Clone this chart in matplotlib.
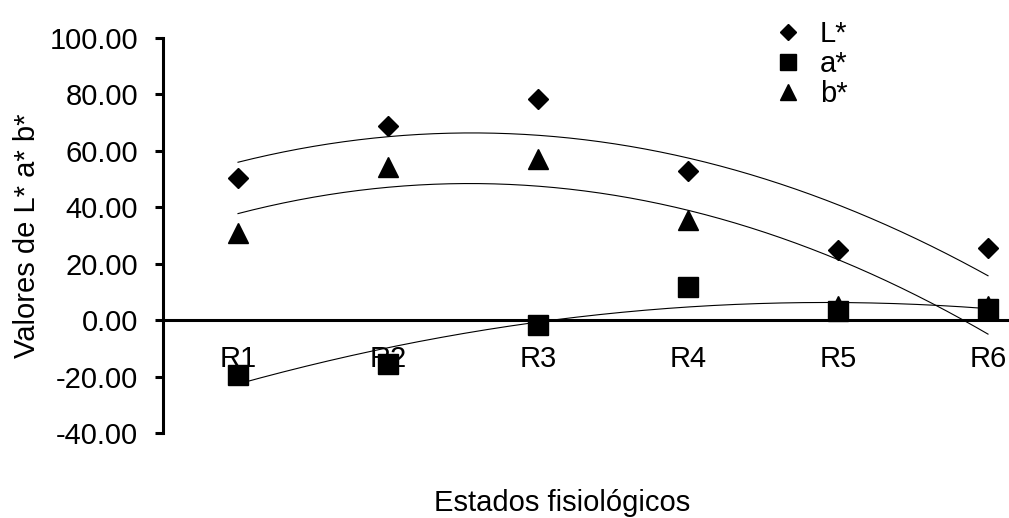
import numpy as np
import matplotlib
matplotlib.use("Agg")
import matplotlib.pyplot as plt

plt.rcParams['font.family'] = ['Liberation Sans', 'DejaVu Sans']

# Colour coordinates per physiological stage
stages = ["R1", "R2", "R3", "R4", "R5", "R6"]
L_star = [50.3, 68.8, 78.4, 52.8, 24.8, 25.5]
a_star = [-19.5, -15.6, -1.8, 11.7, 3.2, 3.9]
b_star = [30.9, 54.3, 57.1, 35.5, 5.0, 5.0]

x = np.arange(1, len(stages) + 1)

fig = plt.figure(figsize=(10.09, 5.18), dpi=100)
ax = fig.add_axes([163 / 1009, 85 / 518, 900 / 1009, 395 / 518])

series = [
    ("L*", L_star, "D", 10),
    ("a*", a_star, "s", 14),
    ("b*", b_star, "^", 14),
]

# second order trend line for each series, drawn under the markers
xs = np.linspace(1, 6, 200)
for label, vals, marker, ms in series:
    coef = np.polyfit(x, vals, 2)
    ax.plot(xs, np.polyval(coef, xs), color="black", lw=0.8, zorder=2)

handles = []
for label, vals, marker, ms in series:
    h, = ax.plot(x, vals, linestyle="none", marker=marker, ms=ms,
                 color="black", mec="black", mew=1, label=label, zorder=3)
    handles.append(h)

ax.set_xlim(0.5, 6.5)
ax.set_ylim(-40, 100)
ax.set_yticks(np.arange(-40, 101, 20))
ax.yaxis.set_major_formatter(matplotlib.ticker.FormatStrFormatter("%.2f"))
ax.set_xticks(x)
ax.set_xticklabels(stages)

for side in ("top", "right"):
    ax.spines[side].set_visible(False)
ax.spines["bottom"].set_position(("data", 0))
ax.spines["bottom"].set_linewidth(2.2)
ax.spines["left"].set_linewidth(2.2)

ax.tick_params(axis="y", direction="out", length=6, width=2.2,
               labelsize=21, pad=12)
ax.tick_params(axis="x", length=0, labelsize=21, pad=18)

ax.set_ylabel("Valores de L* a* b*", fontsize=21, labelpad=6)
fig.text(562 / 1009, 1 - 511 / 518, "Estados fisiológicos", fontsize=21,
         ha="center", va="baseline")

ax.legend(handles=handles, loc="upper left", frameon=False,
          bbox_to_anchor=(773 / 1009, 1 - 20 / 518),
          bbox_transform=fig.transFigure, fontsize=21,
          markerscale=0.8, handlelength=1.0, handletextpad=0.6,
          labelspacing=0.075, borderpad=0, borderaxespad=0)

fig.savefig("out.png", dpi=100)
